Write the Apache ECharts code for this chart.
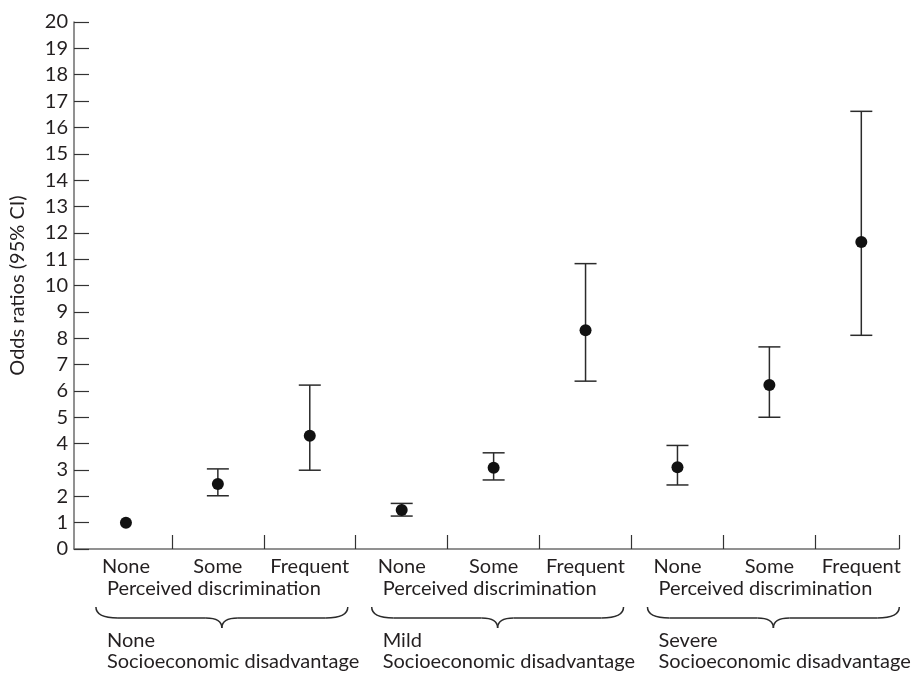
<!DOCTYPE html>
<html>
<head>
<meta charset="utf-8">
<script src="https://cdn.jsdelivr.net/npm/echarts@6/dist/echarts.min.js"></script>
<style>
html,body{margin:0;padding:0;background:#fff;}
#chart{width:915px;height:676px;}
</style>
</head>
<body>
<div id="chart"></div>
<script>
// ---- data ----
const perceivedLevels = ['None', 'Some', 'Frequent'];
const perceivedTitle = 'Perceived discrimination';
const socioLevels = ['None', 'Mild', 'Severe'];
const socioTitle = 'Socioeconomic disadvantage';
const oddsRatio = [1.0, 2.47, 4.30, 1.48, 3.08, 8.30, 3.10, 6.22, 11.65];
const ciLow     = [null, 2.02, 2.99, 1.25, 2.62, 6.37, 2.43, 5.00, 8.11];
const ciHigh    = [null, 3.04, 6.22, 1.73, 3.65, 10.83, 3.93, 7.67, 16.61];
const yTicks = { min: 0, max: 20, step: 1 };
const yTitle = 'Odds ratios (95% CI)';

const FONT = 'Lato';
const FS = 20;
const TXT = '#231f20';
const chart = echarts.init(document.getElementById('chart'));

const pointData = oddsRatio.map((v, i) => [i, v]);
const errData = oddsRatio.map((v, i) => [i, ciLow[i], ciHigh[i]]).filter(d => d[1] != null);
const n = oddsRatio.length;
const tickVals = [];
for (let i = 0; i < n - 1; i++) tickVals.push(i + 0.5);
const xMax = n - 0.59;
tickVals.push(xMax);

chart.setOption({
  animation: false,
  backgroundColor: '#fff',
  grid: { left: 73, right: 16, top: 22, bottom: 127 },
  xAxis: {
    type: 'value', min: -0.565, max: xMax,
    splitLine: { show: false },
    axisLine: { onZero: false, lineStyle: { color: '#6d6d6d', width: 1.5 } },
    axisTick: { show: true, inside: true, length: 14, customValues: tickVals, lineStyle: { color: '#333', width: 1.2 } },
    axisLabel: {
      customValues: oddsRatio.map((v, i) => i),
      formatter: v => perceivedLevels[Math.round(v) % 3],
      fontFamily: FONT, fontSize: FS, color: TXT, margin: 8
    }
  },
  yAxis: {
    type: 'value', min: yTicks.min, max: yTicks.max, interval: yTicks.step,
    name: yTitle, nameLocation: 'middle', nameRotate: 90, nameGap: 46,
    nameTextStyle: { fontFamily: FONT, fontSize: FS, color: TXT },
    splitLine: { show: false },
    axisLine: { show: true, onZero: false, lineStyle: { color: '#6d6d6d', width: 1.5 } },
    axisTick: { show: true, inside: true, length: 15, lineStyle: { color: '#333', width: 1.2 } },
    axisLabel: { fontFamily: FONT, fontSize: FS, color: TXT, margin: 6 }
  },
  series: [
    {
      type: 'custom',
      data: errData,
      renderItem: function (params, api) {
        const x = api.value(0);
        const lo = api.coord([x, api.value(1)]);
        const hi = api.coord([x, api.value(2)]);
        const hw = 11;
        const st = { stroke: '#2b2b2b', lineWidth: 1.5 };
        return {
          type: 'group',
          children: [
            { type: 'line', shape: { x1: lo[0], y1: lo[1], x2: hi[0], y2: hi[1] }, style: st },
            { type: 'line', shape: { x1: lo[0] - hw, y1: lo[1], x2: lo[0] + hw, y2: lo[1] }, style: st },
            { type: 'line', shape: { x1: hi[0] - hw, y1: hi[1], x2: hi[0] + hw, y2: hi[1] }, style: st }
          ]
        };
      },
      z: 2
    },
    {
      type: 'scatter',
      data: pointData,
      symbol: 'circle',
      symbolSize: 12,
      itemStyle: { color: '#111', opacity: 1 },
      z: 3
    }
  ]
});

// group labels and braces, placed with the axis scale
const graphics = [];
const bst = { fill: null, stroke: '#2b2b2b', lineWidth: 1.5 };
for (let g = 0; g < 3; g++) {
  const first = chart.convertToPixel({ xAxisIndex: 0 }, g * 3);
  const last = chart.convertToPixel({ xAxisIndex: 0 }, g * 3 + 2);
  const tx = first - 19;
  const x1 = first - 30, x2 = last + 38, mid = (x1 + x2) / 2;
  const yTop = 607, yH = 618, yTip = 628;
  graphics.push({ type: 'text', x: tx, y: 579,
    style: { text: perceivedTitle, font: FS + 'px ' + FONT, fill: TXT } });
  graphics.push({ type: 'bezierCurve', shape: { x1: x1, y1: yTop, cpx1: x1, cpy1: yH, x2: x1 + 22, y2: yH }, style: bst });
  graphics.push({ type: 'line', shape: { x1: x1 + 22, y1: yH, x2: mid - 16, y2: yH }, style: bst });
  graphics.push({ type: 'bezierCurve', shape: { x1: mid - 16, y1: yH, cpx1: mid, cpy1: yH, x2: mid, y2: yTip }, style: bst });
  graphics.push({ type: 'bezierCurve', shape: { x1: mid + 16, y1: yH, cpx1: mid, cpy1: yH, x2: mid, y2: yTip }, style: bst });
  graphics.push({ type: 'line', shape: { x1: mid + 16, y1: yH, x2: x2 - 22, y2: yH }, style: bst });
  graphics.push({ type: 'bezierCurve', shape: { x1: x2 - 22, y1: yH, cpx1: x2, cpy1: yH, x2: x2, y2: yTop }, style: bst });
  graphics.push({ type: 'text', x: tx, y: 631,
    style: { text: socioLevels[g], font: FS + 'px ' + FONT, fill: TXT } });
  graphics.push({ type: 'text', x: tx, y: 652,
    style: { text: socioTitle, font: FS + 'px ' + FONT, fill: TXT } });
}
chart.setOption({ graphic: graphics });
</script>
</body>
</html>
